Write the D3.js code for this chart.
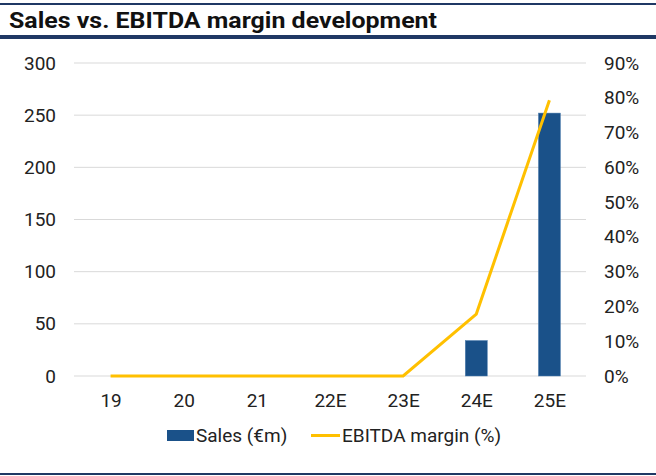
<!DOCTYPE html>
<html>
<head>
<meta charset="utf-8">
<script src="https://cdn.jsdelivr.net/npm/d3@7"></script>
<style>
  body { margin: 0; background: #fff; }
  text { font-family: Roboto, "Noto Sans", sans-serif; }
</style>
</head>
<body>
<svg id="chart" width="656" height="476"></svg>
<script>
const years = ["19", "20", "21", "22E", "23E", "24E", "25E"];
const sales = [0, 0, 0, 0, 0, 34, 252];
const margin = [0, 0, 0, 0, 0, 17.8, 79.3];
const salesTicks = [0, 50, 100, 150, 200, 250, 300];
const marginTicks = [0, 10, 20, 30, 40, 50, 60, 70, 80, 90];

const svg = d3.select("#chart");
const W = 656;
const plot = { left: 74, right: 586, top: 63, bottom: 376 };
const fs = 19;

// frame lines + title
svg.append("rect").attr("x", 0).attr("y", 3).attr("width", W).attr("height", 2).attr("fill", "#1f3864");
svg.append("rect").attr("x", 0).attr("y", 35).attr("width", W).attr("height", 4).attr("fill", "#1f3864");
svg.append("rect").attr("x", 0).attr("y", 473).attr("width", W).attr("height", 2).attr("fill", "#1f3864");
svg.append("text")
    .attr("x", 9).attr("y", 28)
    .attr("font-size", 22).attr("font-weight", "bold")
    .attr("fill", "#111")
    .attr("textLength", 428).attr("lengthAdjust", "spacingAndGlyphs")
    .text("Sales vs. EBITDA margin development");

const xc = d3.scalePoint().domain(years).range([plot.left, plot.right]).padding(0.5);
const yL = d3.scaleLinear().domain([0, 300]).range([plot.bottom, plot.top]);
const yR = d3.scaleLinear().domain([0, 90]).range([plot.bottom, plot.top]);

// gridlines
svg.append("g")
    .selectAll("line")
    .data(salesTicks)
    .join("line")
    .attr("x1", plot.left).attr("x2", plot.right)
    .attr("y1", d => yL(d)).attr("y2", d => yL(d))
    .attr("stroke", "#d9d9d9").attr("stroke-width", 1);

// left axis
const left = svg.append("g")
    .attr("transform", `translate(${plot.left - 18},0)`)
    .call(d3.axisLeft(yL).tickValues(salesTicks).tickSize(0).tickPadding(0));
left.select(".domain").remove();
left.selectAll("text").attr("font-size", fs).attr("fill", "#222").attr("font-family", "Roboto");

// right axis
const right = svg.append("g")
    .attr("transform", `translate(${plot.right + 18},0)`)
    .call(d3.axisRight(yR).tickValues(marginTicks).tickSize(0).tickPadding(0).tickFormat(d => d + "%"));
right.select(".domain").remove();
right.selectAll("text").attr("font-size", fs).attr("fill", "#222").attr("font-family", "Roboto");

// bottom axis
const bottom = svg.append("g")
    .attr("transform", `translate(0,${plot.bottom + 17})`)
    .call(d3.axisBottom(xc).tickSize(0).tickPadding(0));
bottom.select(".domain").remove();
bottom.selectAll("text").attr("font-size", fs).attr("fill", "#222").attr("font-family", "Roboto").attr("dy", "0.71em");

// bars
const bw = 22;
svg.append("g")
    .selectAll("rect")
    .data(sales)
    .join("rect")
    .attr("x", (d, i) => xc(years[i]) - bw / 2)
    .attr("width", bw)
    .attr("y", d => yL(d))
    .attr("height", d => yL(0) - yL(d))
    .attr("fill", "#1a5189")
    .attr("stroke", "#4f7fb0").attr("stroke-width", 0.5);

// line
const line = d3.line()
    .x((d, i) => xc(years[i]))
    .y(d => yR(d));
svg.append("path")
    .datum(margin)
    .attr("d", line)
    .attr("fill", "none")
    .attr("stroke", "#ffc000")
    .attr("stroke-width", 3)
    .attr("stroke-linejoin", "miter");

// legend
const lg = svg.append("g");
lg.append("rect").attr("x", 167).attr("y", 430).attr("width", 27).attr("height", 11).attr("fill", "#1a5189");
lg.append("text").attr("x", 196).attr("y", 442).attr("font-size", fs).attr("fill", "#222").text("Sales (€m)");
lg.append("line").attr("x1", 311).attr("x2", 340).attr("y1", 435.5).attr("y2", 435.5)
    .attr("stroke", "#ffc000").attr("stroke-width", 3);
lg.append("text").attr("x", 342).attr("y", 442).attr("font-size", fs).attr("fill", "#222").text("EBITDA margin (%)");
</script>
</body>
</html>
